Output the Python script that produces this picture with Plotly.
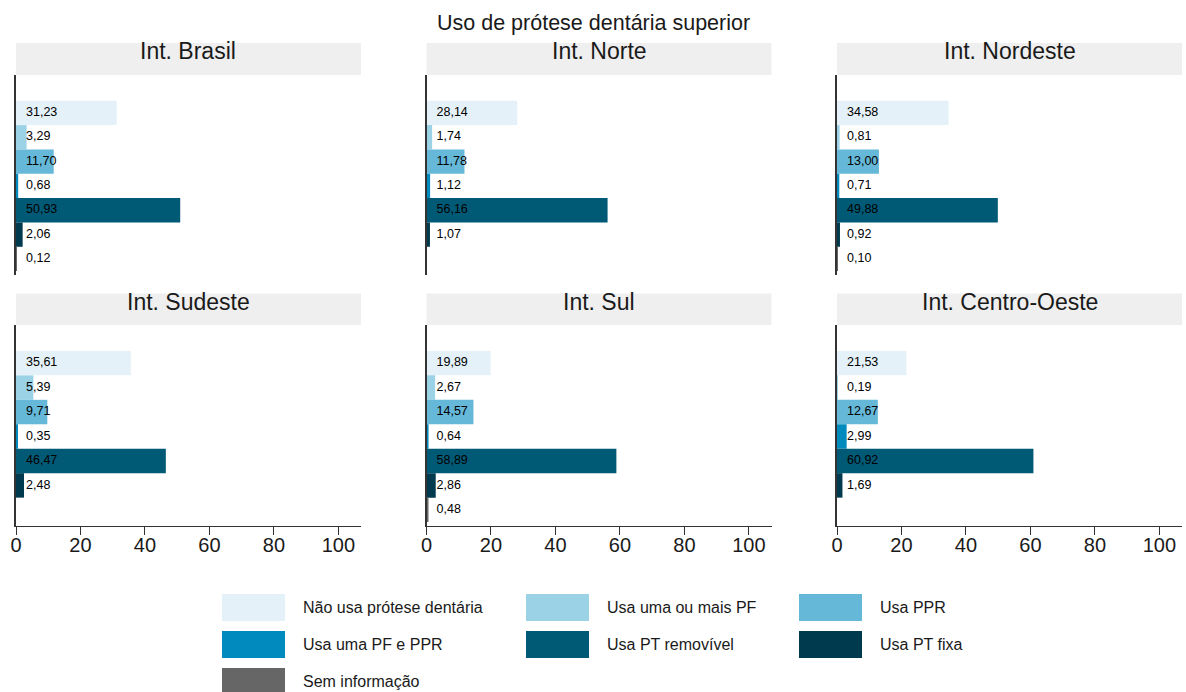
import plotly.graph_objects as go

# ---------------- data ----------------
categories = ["Não usa prótese dentária", "Usa uma ou mais PF", "Usa PPR",
              "Usa uma PF e PPR", "Usa PT removível", "Usa PT fixa", "Sem informação"]
colors = ["#e4f1f8", "#9bd2e5", "#66b8d8", "#008abd", "#005a76", "#003a4e", "#666666"]
regions = ["Int. Brasil", "Int. Norte", "Int. Nordeste",
           "Int. Sudeste", "Int. Sul", "Int. Centro-Oeste"]
brasil = [31.23, 3.29, 11.70, 0.68, 50.93, 2.06, 0.12]
norte = [28.14, 1.74, 11.78, 1.12, 56.16, 1.07, None]
nordeste = [34.58, 0.81, 13.00, 0.71, 49.88, 0.92, 0.10]
sudeste = [35.61, 5.39, 9.71, 0.35, 46.47, 2.48, None]
sul = [19.89, 2.67, 14.57, 0.64, 58.89, 2.86, 0.48]
centro_oeste = [21.53, 0.19, 12.67, 2.99, 60.92, 1.69, None]
series = [brasil, norte, nordeste, sudeste, sul, centro_oeste]
x_ticks = [0, 20, 40, 60, 80, 100]
title = "Uso de prótese dentária superior"

# ---------------- geometry (pixels) ----------------
W, H = 1186, 692
col_px = [(16, 361), (426.5, 771.5), (837, 1182)]
row_px = [(75, 275), (325, 526)]
strip_px = [(43, 75), (293.5, 325)]
FONT = "Liberation Sans, Arial, Helvetica, sans-serif"
TXT = "#1a1a1a"

def px_x(p):
    return p / W

def px_y(p):
    return 1 - p / H

fig = go.Figure()
layout = dict(
    width=W, height=H,
    margin=dict(l=0, r=0, t=0, b=0, pad=0, autoexpand=False),
    paper_bgcolor="white", plot_bgcolor="white",
    font=dict(family=FONT, color=TXT),
    showlegend=False,
    shapes=[], annotations=[],
)

for k, (region, vals) in enumerate(zip(regions, series)):
    r, c = divmod(k, 3)
    ax = "" if k == 0 else str(k + 1)
    xa, ya = "x" + ax, "y" + ax
    ys = [cat for cat, v in zip(categories, vals) if v is not None]
    xs = [v for v in vals if v is not None]
    cs = [col for col, v in zip(colors, vals) if v is not None]
    fig.add_trace(go.Bar(
        x=xs, y=ys, orientation="h", marker=dict(color=cs, line=dict(width=0)),
        width=1, xaxis=xa, yaxis=ya, hoverinfo="x+y",
    ))
    fig.add_trace(go.Scatter(
        x=[3.1] * len(xs), y=ys, mode="text",
        text=[f"{v:.2f}".replace(".", ",") for v in xs],
        textposition="middle right",
        textfont=dict(size=12.5, color="black", family=FONT),
        xaxis=xa, yaxis=ya, hoverinfo="skip",
    ))
    bottom = (r == 1)
    layout["xaxis" + ax] = dict(
        domain=[px_x(col_px[c][0]), px_x(col_px[c][1])],
        range=[0, 107], anchor=ya, automargin=False,
        showgrid=False, zeroline=False,
        showline=bottom, linecolor="#333333", linewidth=1.3,
        ticks="outside" if bottom else "", ticklen=8, tickwidth=1.3, tickcolor="#333333",
        tickvals=x_ticks, showticklabels=bottom, ticklabelstandoff=-7,
        tickfont=dict(size=20, color=TXT, family=FONT),
    )
    layout["yaxis" + ax] = dict(
        domain=[px_y(row_px[r][1]), px_y(row_px[r][0])],
        type="category", categoryorder="array", categoryarray=categories,
        range=[6.66, -1.56], anchor=xa, automargin=False,
        showgrid=False, zeroline=False, showticklabels=False, ticks="",
        showline=True, linecolor="#333333", linewidth=1.5,
    )
    # facet strip
    layout["shapes"].append(dict(
        type="rect", xref="paper", yref="paper", layer="below",
        x0=px_x(col_px[c][0]), x1=px_x(col_px[c][1]),
        y0=px_y(strip_px[r][1]), y1=px_y(strip_px[r][0]),
        fillcolor="#efefef", line=dict(width=0),
    ))
    layout["annotations"].append(dict(
        text=region, xref="paper", yref="paper", showarrow=False,
        x=px_x((col_px[c][0] + col_px[c][1]) / 2), y=px_y(strip_px[r][0] + 8),
        xanchor="center", yanchor="middle",
        font=dict(size=23, color=TXT, family=FONT),
    ))

# title
layout["annotations"].append(dict(
    text=title, xref="paper", yref="paper", showarrow=False,
    x=0.5, y=px_y(23), xanchor="center", yanchor="middle",
    font=dict(size=21.5, color=TXT, family=FONT),
))

# legend (custom, large swatches)
leg_cols = [222, 526, 799]
leg_rows = [594, 631, 668]
sw_w, sw_h = 63, 27
for i, (cat, col) in enumerate(zip(categories, colors)):
    rr, cc = divmod(i, 3)
    x0, y0 = leg_cols[cc], leg_rows[rr]
    layout["shapes"].append(dict(
        type="rect", xref="paper", yref="paper",
        x0=px_x(x0), x1=px_x(x0 + sw_w), y0=px_y(y0 + sw_h), y1=px_y(y0),
        fillcolor=col, line=dict(width=0),
    ))
    layout["annotations"].append(dict(
        text=cat, xref="paper", yref="paper", showarrow=False,
        x=px_x(x0 + 79), y=px_y(y0 + sw_h / 2), xanchor="left", yanchor="middle",
        font=dict(size=16, color=TXT, family=FONT),
    ))

fig.update_layout(**layout)
fig.write_html("out.html", config={"displayModeBar": False},
               post_script="document.body.style.margin='0';")
